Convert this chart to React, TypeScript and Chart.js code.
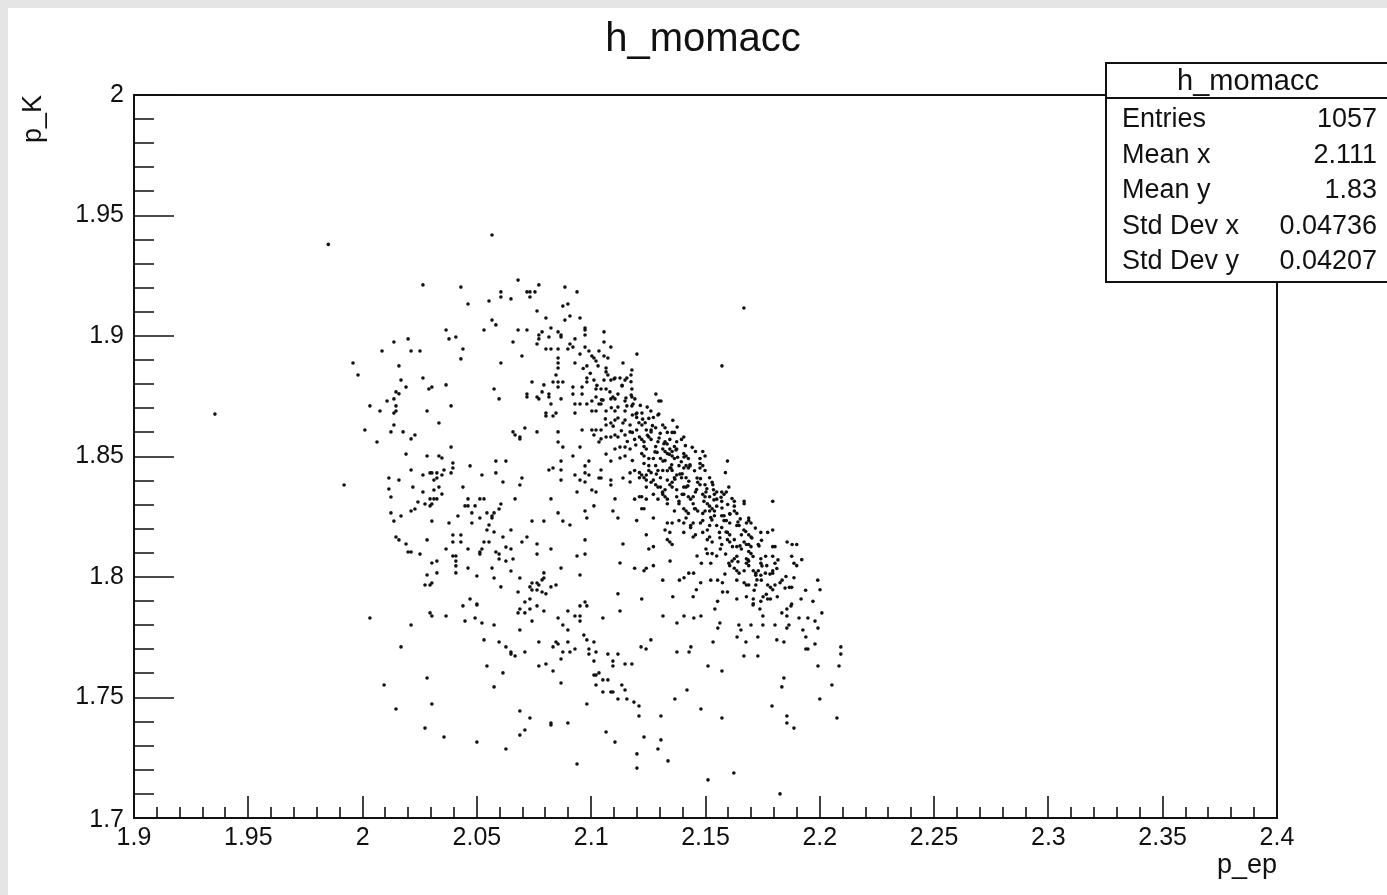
import React, { useEffect, useRef } from 'react';
import { Chart, registerables } from 'chart.js';

Chart.register(...registerables);

const TITLE = 'h_momacc';
const X_TITLE = 'p_ep';
const Y_TITLE = 'p_K';
const X_MIN = 1.9;
const X_MAX = 2.4;
const Y_MIN = 1.7;
const Y_MAX = 2.0;
const xTickValues = [1.9, 1.95, 2.0, 2.05, 2.1, 2.15, 2.2, 2.25, 2.3, 2.35, 2.4];
const xTickLabels = ['1.9', '1.95', '2', '2.05', '2.1', '2.15', '2.2', '2.25', '2.3', '2.35', '2.4'];
const yTickValues = [1.7, 1.75, 1.8, 1.85, 1.9, 1.95, 2.0];
const yTickLabels = ['1.7', '1.75', '1.8', '1.85', '1.9', '1.95', '2'];
const statsLabels = ['Entries', 'Mean x', 'Mean y', 'Std Dev x', 'Std Dev y'];
const statsValues = ['1057', '2.111', '1.83', '0.04736', '0.04207'];

// scatter entries, [p_ep, p_K]
const pointsLeft = [
  [1.985, 1.938], [2.0137, 1.8975], [2.0199, 1.8988], [2.0085, 1.8938], [1.9958, 1.8888], [2.0159, 1.8876],
  [1.998, 1.8838], [2.0168, 1.8817], [2.019, 1.8788], [2.0146, 1.8768], [2.0159, 1.876], [2.0107, 1.873],
  [2.0137, 1.8739], [2.0032, 1.871], [2.0076, 1.8689], [2.0146, 1.871], [2.0146, 1.8689], [2.0137, 1.868],
  [1.9354, 1.8676], [2.0137, 1.8631], [2.001, 1.861], [2.0124, 1.8602], [2.0177, 1.8602], [2.0063, 1.856],
  [2.019, 1.851], [2.0115, 1.8411], [2.0159, 1.8402], [1.9919, 1.8382], [2.0115, 1.8365], [2.0124, 1.8332],
  [2.0124, 1.8266], [2.0168, 1.8253], [2.0137, 1.8232], [2.0146, 1.8166], [2.0159, 1.8154], [2.019, 1.8137],
  [2.0199, 1.8104], [2.0032, 1.783], [2.0168, 1.771], [2.0094, 1.7552], [2.0146, 1.7452],
];

const pointsUpperMid = [
  [2.0566, 1.9419], [2.0264, 1.9212], [2.043, 1.9203], [2.068, 1.9232], [2.0771, 1.9212], [2.0605, 1.9183],
  [2.0605, 1.9162], [2.0719, 1.9183], [2.0732, 1.9183], [2.0754, 1.9183], [2.0732, 1.9162], [2.0885, 1.9203],
  [2.0938, 1.9183], [2.0553, 1.9145], [2.0649, 1.9154], [2.0461, 1.9133], [2.0876, 1.9124], [2.0898, 1.9133],
  [2.0763, 1.9104], [2.0566, 1.9066], [2.0583, 1.9046], [2.0531, 1.9025], [2.0365, 1.9025], [2.0408, 1.8996],
  [2.0378, 1.8988], [2.068, 1.9025], [2.0719, 1.9025], [2.0802, 1.9075], [2.0885, 1.9066], [2.0907, 1.9083],
  [2.0951, 1.9075], [2.0658, 1.8975], [2.0439, 1.8946], [2.043, 1.8905], [2.0212, 1.8938], [2.0251, 1.8938],
  [2.0697, 1.8917], [2.0605, 1.8888], [2.0264, 1.8826], [2.029, 1.878], [2.0303, 1.8788], [2.0365, 1.8797],
  [2.0387, 1.871], [2.0282, 1.8689], [2.0575, 1.878], [2.0597, 1.8739],
  [2.0771, 1.9004], [2.0785, 1.9017], [2.0771, 1.8988], [2.0763, 1.8967], [2.0815, 1.8996], [2.0824, 1.9033],
  [2.0855, 1.9017], [2.0868, 1.9004], [2.0868, 1.8996], [2.0802, 1.8946], [2.0824, 1.8946], [2.0855, 1.8946],
  [2.0907, 1.8967], [2.092, 1.8954], [2.0929, 1.8988], [2.0898, 1.8946],
  [2.0973, 1.9033], [2.0973, 1.9025], [2.0973, 1.9004], [2.1056, 1.9017], [2.1056, 1.8975], [2.1086, 1.8954],
  [2.0951, 1.8925], [2.0973, 1.8954], [2.099, 1.8938], [2.0929, 1.8888],
  [2.1003, 1.8917], [2.1012, 1.8909], [2.1021, 1.8896], [2.1034, 1.8938], [2.1056, 1.8917], [2.1073, 1.8909],
  [2.0855, 1.8909], [2.0855, 1.8888], [2.0855, 1.8867], [2.0981, 1.8876], [2.1065, 1.8867], [2.1139, 1.8888],
  [2.0741, 1.8809], [2.0793, 1.8797], [2.0833, 1.8809], [2.0855, 1.8809], [2.0855, 1.8788], [2.0876, 1.8809],
  [2.0846, 1.8838],
  [2.0981, 1.8826], [2.0981, 1.8809], [2.1012, 1.8817], [2.1056, 1.8817], [2.1073, 1.8838], [2.1086, 1.8817],
  [2.1104, 1.8826], [2.1126, 1.8826], [2.1148, 1.8817], [2.1156, 1.8826],
  [2.092, 1.8788], [2.096, 1.8788], [2.1021, 1.878], [2.1043, 1.878], [2.1065, 1.878],
  [2.0785, 1.8768], [2.0815, 1.8759], [2.0815, 1.8747], [2.0868, 1.8739], [2.092, 1.8759], [2.096, 1.8759],
  [2.0719, 1.8759], [2.0719, 1.8747], [2.0763, 1.8747], [2.0771, 1.8739],
  [2.0824, 1.8718], [2.0929, 1.8718], [2.0951, 1.8718], [2.0981, 1.8718], [2.1003, 1.873], [2.1021, 1.8747],
  [2.1034, 1.8718], [2.1043, 1.8718], [2.1086, 1.8739], [2.1095, 1.8747], [2.1104, 1.8739], [2.1117, 1.8759],
  [2.1148, 1.873], [2.1156, 1.871],
  [2.0802, 1.868], [2.0846, 1.868], [2.0929, 1.868], [2.1003, 1.8689], [2.1021, 1.8689], [2.1065, 1.8689],
  [2.1104, 1.8689], [2.1148, 1.8689],
];

const pointsUpperRight = [
  [2.1668, 1.9116], [2.12, 1.8925], [2.1572, 1.8876], [2.1178, 1.8859], [2.1178, 1.878], [2.1174, 1.8838],
  [2.1174, 1.881], [2.1178, 1.8747], [2.1191, 1.8739], [2.1283, 1.8759], [2.1296, 1.873], [2.1305, 1.873],
  [2.1178, 1.871], [2.1261, 1.8689], [2.12, 1.868], [2.1222, 1.868], [2.1296, 1.8676],
];

const pointsMid = [
  [2.0334, 1.8639], [2.0229, 1.8589], [2.0212, 1.8573], [2.0387, 1.8539], [2.0282, 1.8502], [2.0334, 1.8502],
  [2.0347, 1.8494], [2.0395, 1.8473], [2.0395, 1.8452], [2.0212, 1.8444],
  [2.0264, 1.8423], [2.0295, 1.8432], [2.0303, 1.8432], [2.0325, 1.8432], [2.0356, 1.8444], [2.0347, 1.8423],
  [2.0325, 1.8411], [2.0312, 1.8402], [2.0387, 1.8432],
  [2.047, 1.8461], [2.0522, 1.8423], [2.0583, 1.8481], [2.0627, 1.8481], [2.0583, 1.8432], [2.0614, 1.8394],
  [2.0697, 1.8411], [2.0688, 1.8382], [2.022, 1.8373],
  [2.0264, 1.8353], [2.0334, 1.8373], [2.0312, 1.8361], [2.0347, 1.8344], [2.0295, 1.8324], [2.0312, 1.8324],
  [2.0325, 1.8324], [2.0273, 1.8303], [2.0295, 1.8295], [2.0303, 1.8303],
  [2.0242, 1.8311], [2.0229, 1.8282], [2.0212, 1.8274], [2.0439, 1.8373],
  [2.0461, 1.8324], [2.0448, 1.8295], [2.0461, 1.8295], [2.0492, 1.8295], [2.0513, 1.8324], [2.0531, 1.8324],
  [2.0478, 1.8266], [2.0513, 1.8245], [2.0544, 1.8266], [2.0566, 1.8253], [2.0566, 1.8245], [2.0597, 1.8282],
  [2.0605, 1.8303], [2.0575, 1.8266], [2.0667, 1.8324], [2.0303, 1.8232], [2.0378, 1.8224], [2.0478, 1.8224],
  [2.0553, 1.8216], [2.0544, 1.8195], [2.0575, 1.8187], [2.0649, 1.8195], [2.0417, 1.8253],
  [2.0741, 1.8232], [2.0793, 1.8232], [2.0855, 1.8266], [2.0876, 1.8232], [2.0907, 1.8216], [2.0824, 1.8324],
  [2.0395, 1.8174], [2.043, 1.8174], [2.0282, 1.8154], [2.0395, 1.8145], [2.043, 1.8145], [2.0531, 1.8145],
  [2.0553, 1.8145], [2.0614, 1.8166], [2.0697, 1.8145], [2.0719, 1.8166], [2.0763, 1.8137],
  [2.0212, 1.8104], [2.0251, 1.8095], [2.0365, 1.8116], [2.0395, 1.8087], [2.0408, 1.8087], [2.0408, 1.8066],
  [2.0408, 1.8046], [2.0408, 1.8017], [2.0461, 1.8116], [2.0513, 1.8104], [2.0513, 1.8095], [2.0522, 1.8116],
  [2.0583, 1.8104], [2.0597, 1.8095], [2.0597, 1.8075], [2.0627, 1.8124], [2.0649, 1.8116], [2.0658, 1.8075],
  [2.0627, 1.8066], [2.0566, 1.8037], [2.0649, 1.8025], [2.0461, 1.8037], [2.05, 1.8004],
  [2.0303, 1.8058], [2.0325, 1.8066], [2.0325, 1.8017], [2.0282, 1.8008], [2.0273, 1.7967], [2.0295, 1.7967],
  [2.0303, 1.7975], [2.0575, 1.7996], [2.0605, 1.7959], [2.0688, 1.7996], [2.068, 1.7938], [2.0763, 1.8095],
  [2.0824, 1.8116],
  [2.0741, 1.7975], [2.0763, 1.7975], [2.0771, 1.7967], [2.0785, 1.7988], [2.0793, 1.7996], [2.0793, 1.8017],
  [2.0732, 1.7959], [2.0741, 1.7946], [2.0763, 1.7946], [2.0785, 1.7938], [2.0802, 1.793], [2.0824, 1.7959],
  [2.0846, 1.7967], [2.0868, 1.8037], [2.071, 1.7896], [2.0732, 1.7909], [2.047, 1.7909], [2.05, 1.7888],
  [2.0951, 1.8008], [2.0938, 1.8087], [2.0973, 1.8095], [2.0973, 1.8154], [2.0973, 1.7896], [2.1117, 1.793],
  [2.1126, 1.8058], [2.1139, 1.8137],
  [2.0763, 1.8602], [2.071, 1.8618], [2.0658, 1.8602], [2.0667, 1.8589], [2.0688, 1.8581], [2.0688, 1.8573],
  [2.0802, 1.8668], [2.0833, 1.8668], [2.0855, 1.8602], [2.0855, 1.856], [2.0876, 1.8539],
  [2.096, 1.861], [2.1003, 1.861], [2.1021, 1.861], [2.1043, 1.861], [2.1065, 1.8631], [2.1086, 1.8639],
  [2.1104, 1.8651], [2.1117, 1.866], [2.1139, 1.8639], [2.1148, 1.8651], [2.117, 1.8631],
  [2.1012, 1.8589], [2.1034, 1.856], [2.1043, 1.8573], [2.1065, 1.8581], [2.1086, 1.8581], [2.1104, 1.8589],
  [2.1117, 1.8581], [2.1148, 1.8589], [2.117, 1.8602],
  [2.0951, 1.8539], [2.092, 1.8502], [2.0868, 1.8481], [2.0868, 1.8444], [2.0868, 1.8402], [2.0815, 1.8444],
  [2.0833, 1.8452],
  [2.1104, 1.8531], [2.1126, 1.8539], [2.1148, 1.8539], [2.117, 1.8531], [2.1065, 1.851], [2.1086, 1.8481],
  [2.1126, 1.8494], [2.1148, 1.8502],
  [2.0973, 1.8461], [2.099, 1.8481], [2.0973, 1.8432], [2.0929, 1.8423], [2.0951, 1.8402], [2.0973, 1.8394],
  [2.099, 1.8423], [2.1043, 1.8444], [2.1034, 1.8411], [2.1043, 1.8411],
  [2.1086, 1.8402], [2.1086, 1.8382], [2.1139, 1.8411], [2.117, 1.8432], [2.117, 1.8394],
  [2.0938, 1.8353], [2.1003, 1.8361], [2.1021, 1.8353], [2.1104, 1.8324], [2.1012, 1.8295], [2.0973, 1.8274],
  [2.0981, 1.8245], [2.1095, 1.8274], [2.1117, 1.8245],
];

const pointsBand = [
  [2.118, 1.8672], [2.1199, 1.8662], [2.1209, 1.864], [2.1236, 1.864], [2.1252, 1.8658], [2.1272, 1.8662],
  [2.1292, 1.8672], [2.1313, 1.8631], [2.1323, 1.8619], [2.1357, 1.865], [2.1199, 1.861], [2.1241, 1.861],
  [2.1262, 1.861], [2.1282, 1.8619], [2.1333, 1.86], [2.1354, 1.86], [2.1364, 1.86], [2.119, 1.8571],
  [2.1211, 1.8581], [2.1221, 1.8571], [2.1231, 1.8561], [2.1252, 1.8581], [2.1262, 1.8571], [2.1292, 1.8561],
  [2.1323, 1.8561], [2.1344, 1.8571], [2.1374, 1.8561], [2.1395, 1.8571], [2.1405, 1.8581], [2.118, 1.86],
  [2.1231, 1.8541], [2.1241, 1.8531], [2.1282, 1.8541], [2.1313, 1.8531], [2.1323, 1.8521], [2.1344, 1.8531],
  [2.1354, 1.8521], [2.1364, 1.8541], [2.1374, 1.8531], [2.1333, 1.8512], [2.1354, 1.8502], [2.1221, 1.8512],
  [2.1231, 1.8502], [2.1252, 1.8492], [2.1272, 1.8492], [2.1303, 1.8492], [2.1364, 1.8492], [2.1405, 1.8512],
  [2.1415, 1.8502], [2.1425, 1.8492], [2.1456, 1.8521], [2.1488, 1.8521], [2.1476, 1.8492], [2.1498, 1.8502],
  [2.118, 1.8483], [2.1231, 1.8471], [2.1252, 1.8462], [2.1282, 1.8462], [2.1323, 1.8483],
  [2.119, 1.8442], [2.1211, 1.8433], [2.1221, 1.8423], [2.1241, 1.8423], [2.1252, 1.8442], [2.1262, 1.8433],
  [2.1292, 1.8442], [2.1313, 1.8442], [2.1344, 1.8452], [2.1354, 1.8442], [2.1384, 1.8462], [2.1405, 1.8452],
  [2.1415, 1.8462], [2.1425, 1.8452], [2.1476, 1.8471], [2.1488, 1.8462], [2.1476, 1.8452], [2.1498, 1.8442],
  [2.1596, 1.8481], [2.1587, 1.8433], [2.1211, 1.8412], [2.1231, 1.8412], [2.1241, 1.8402], [2.1272, 1.8402],
  [2.1282, 1.8383], [2.1303, 1.8412], [2.1333, 1.8402], [2.1344, 1.8383], [2.1354, 1.8393], [2.1364, 1.8412],
  [2.1374, 1.8423], [2.1395, 1.8412], [2.1415, 1.8412], [2.1466, 1.8393], [2.1476, 1.8383], [2.1498, 1.8383],
  [2.1518, 1.8412], [2.1529, 1.8393], [2.1532, 1.8383],
  [2.1241, 1.8373], [2.1292, 1.8373], [2.1303, 1.8373], [2.1323, 1.8362], [2.1354, 1.8373], [2.1374, 1.8362],
  [2.1405, 1.8373], [2.1415, 1.8373], [2.1456, 1.8353], [2.1446, 1.8333], [2.1488, 1.8343], [2.1498, 1.8333],
  [2.1518, 1.8333], [2.1539, 1.8343], [2.1549, 1.8353], [2.1571, 1.8353], [2.1581, 1.8343], [2.1591, 1.8353],
  [2.1602, 1.8373], [2.1549, 1.8323], [2.119, 1.8323], [2.1211, 1.8333], [2.1221, 1.8333], [2.1241, 1.8323],
  [2.1272, 1.8343], [2.1292, 1.8323], [2.1313, 1.8343], [2.1323, 1.8333], [2.1333, 1.8323], [2.1374, 1.8333],
  [2.1384, 1.8314], [2.1405, 1.8343], [2.1425, 1.8333], [2.1435, 1.8323],
  [2.1221, 1.8283], [2.1231, 1.8283], [2.1333, 1.8304], [2.1364, 1.8274], [2.1384, 1.8304], [2.1405, 1.8283],
  [2.1415, 1.8274], [2.1425, 1.8264], [2.1446, 1.8304], [2.1456, 1.8283], [2.1466, 1.8274], [2.1488, 1.8264],
  [2.1508, 1.8304], [2.1518, 1.8294], [2.1529, 1.8283], [2.1539, 1.8274], [2.1549, 1.8294], [2.1571, 1.8314],
  [2.1581, 1.8254], [2.1571, 1.8254], [2.1518, 1.8274], [2.1498, 1.8274], [2.1626, 1.8314], [2.1626, 1.8294],
  [2.1626, 1.8274], [2.1637, 1.8264], [2.1669, 1.8314], [2.1669, 1.8304], [2.1794, 1.8314], [2.1616, 1.8326],
  [2.1199, 1.8234], [2.1272, 1.8245], [2.1333, 1.8224], [2.1354, 1.8224], [2.1384, 1.8234], [2.1405, 1.8224],
  [2.1435, 1.8214], [2.1446, 1.8224], [2.1478, 1.8224], [2.1488, 1.8234], [2.1518, 1.8214], [2.1549, 1.8214],
  [2.1539, 1.8254], [2.1581, 1.8234], [2.1591, 1.8234], [2.1571, 1.8205], [2.1606, 1.8224], [2.1637, 1.8214],
  [2.1647, 1.8214], [2.1679, 1.8224], [2.1689, 1.8234], [2.1699, 1.8224], [2.1689, 1.8245], [2.1323, 1.8195],
  [2.1344, 1.8185], [2.1405, 1.8185], [2.1435, 1.8205], [2.1456, 1.8175], [2.1446, 1.8166], [2.1488, 1.8185],
  [2.1508, 1.8195], [2.1518, 1.8166], [2.1561, 1.8185], [2.1596, 1.8185], [2.1606, 1.8175], [2.1657, 1.8175],
  [2.1689, 1.8175], [2.1699, 1.8166], [2.1742, 1.8185], [2.1772, 1.8185], [2.1794, 1.8195],
  [2.1241, 1.8175], [2.1333, 1.8155], [2.1344, 1.8145], [2.1354, 1.8135], [2.1272, 1.8126], [2.1252, 1.8116],
  [2.1508, 1.8155], [2.1529, 1.8145], [2.1571, 1.8135], [2.1596, 1.8155], [2.1606, 1.8145], [2.1626, 1.8155],
  [2.1637, 1.8126], [2.1669, 1.8145], [2.1679, 1.8135], [2.1689, 1.8135], [2.1699, 1.8126], [2.1731, 1.8135],
  [2.1657, 1.8116], [2.1689, 1.8106], [2.1699, 1.8097], [2.1794, 1.8126], [2.1804, 1.8126], [2.1857, 1.8145],
  [2.1879, 1.8135], [2.1899, 1.8135], [2.1502, 1.8116], [2.1565, 1.8116], [2.1508, 1.8097], [2.1529, 1.8097],
  [2.1549, 1.8087], [2.1463, 1.8087], [2.1482, 1.8057],
  [2.1345, 1.8066], [2.119, 1.8036], [2.1231, 1.8026], [2.1241, 1.8036], [2.1272, 1.8047], [2.1523, 1.8057],
  [2.1602, 1.8057], [2.1616, 1.8066], [2.1626, 1.8076], [2.1637, 1.8086], [2.1606, 1.8047], [2.1626, 1.8036],
  [2.1637, 1.8026], [2.1647, 1.8016], [2.1679, 1.8076], [2.1689, 1.8066], [2.1679, 1.8057], [2.1689, 1.8047],
  [2.1742, 1.8076], [2.1742, 1.8057], [2.1763, 1.8086], [2.1794, 1.8086], [2.1804, 1.8057], [2.1877, 1.8086],
  [2.1887, 1.8057], [2.1899, 1.8047], [2.1669, 1.8026], [2.1709, 1.8026], [2.172, 1.8016], [2.1731, 1.8026],
  [2.172, 1.8007], [2.1742, 1.8007], [2.1762, 1.8016], [2.1794, 1.8026], [2.1794, 1.8016],
  [2.1313, 1.7987], [2.1386, 1.7987], [2.1406, 1.7997], [2.1427, 1.8016], [2.1448, 1.8016], [2.1479, 1.7976],
  [2.1523, 1.7987], [2.1553, 1.7987], [2.1574, 1.7976], [2.1637, 1.7987], [2.1669, 1.7976], [2.1679, 1.7967],
  [2.1689, 1.7967], [2.172, 1.7967], [2.1772, 1.7967], [2.1784, 1.7957], [2.1794, 1.7947], [2.1804, 1.7967],
  [2.1835, 1.7987], [2.1887, 1.7997], [2.1877, 1.7957], [2.1867, 1.7957], [2.1991, 1.7987], [2.2001, 1.7947],
  [2.146, 1.7947], [2.1575, 1.7938], [2.1596, 1.7938], [2.1221, 1.7909], [2.1357, 1.7918], [2.1446, 1.7918],
  [2.1553, 1.7899], [2.1637, 1.7909], [2.1679, 1.7918], [2.1709, 1.7909], [2.1742, 1.7899], [2.1752, 1.7918],
  [2.1772, 1.7909], [2.1784, 1.7909], [2.1814, 1.7918], [2.1918, 1.7909], [2.197, 1.7899], [2.1877, 1.7888],
  [2.1709, 1.7889],
];

// overlapping entries in the darkest part of the band, estimated
const pointsBandDense = [
  [2.1225, 1.8655], [2.1268, 1.8628], [2.1302, 1.8596], [2.1246, 1.8588], [2.1318, 1.8553], [2.1288, 1.8517],
  [2.1342, 1.8509], [2.1378, 1.8497], [2.1394, 1.8478], [2.1352, 1.8466], [2.1432, 1.8466], [2.1452, 1.8441],
  [2.1398, 1.8428], [2.1366, 1.8406], [2.1427, 1.8397], [2.1478, 1.8408], [2.1506, 1.8366], [2.1461, 1.8363],
  [2.1535, 1.8362], [2.1568, 1.8331], [2.1493, 1.8314], [2.1597, 1.8301], [2.1523, 1.8247], [2.1606, 1.8262],
  [2.1652, 1.8241], [2.1718, 1.8203], [2.1676, 1.8189], [2.1745, 1.8152], [2.1708, 1.8085], [2.1768, 1.8047],
  [2.1812, 1.8035], [2.1744, 1.7987], [2.1826, 1.7976], [2.1195, 1.8548], [2.1158, 1.8562], [2.1132, 1.8607],
  [2.1096, 1.8626], [2.1062, 1.8656], [2.1088, 1.8702], [2.1045, 1.8735], [2.1025, 1.8795], [2.0996, 1.8845],
  [2.0965, 1.8865], [2.1135, 1.8795], [2.1175, 1.8755], [2.1215, 1.8712], [2.1245, 1.8705], [2.1376, 1.8622],
  [2.1412, 1.8545], [2.1442, 1.8538], [2.1333, 1.8441], [2.1285, 1.8427], [2.1262, 1.8393], [2.1312, 1.8352],
  [2.1398, 1.8343], [2.1452, 1.8283], [2.1415, 1.8245], [2.1563, 1.8163], [2.1618, 1.8126], [2.1588, 1.8095],
  [2.1642, 1.8063], [2.1585, 1.8012], [2.1713, 1.7945], [2.1766, 1.7928], [2.1852, 1.8002], [2.1921, 1.8072],
  [2.1938, 1.7945],
  [2.103, 1.8876], [2.1065, 1.8851], [2.11, 1.8822], [2.1135, 1.8793], [2.1082, 1.8768], [2.1152, 1.8743],
  [2.1183, 1.8718], [2.1117, 1.8705], [2.1052, 1.8734], [2.1196, 1.8676], [2.1222, 1.8631], [2.1262, 1.8602],
  [2.1297, 1.8577], [2.1332, 1.8552], [2.1371, 1.8527], [2.1406, 1.8498], [2.1279, 1.8519], [2.1314, 1.8481],
  [2.1349, 1.8452], [2.1388, 1.8427], [2.1432, 1.8461], [2.1463, 1.8411], [2.1423, 1.8378], [2.1502, 1.8353],
  [2.1537, 1.832], [2.1572, 1.8286], [2.1607, 1.8261], [2.1642, 1.8228], [2.1668, 1.8195], [2.1703, 1.8162],
  [2.1734, 1.8129], [2.1528, 1.8237], [2.159, 1.8187], [2.1651, 1.8129], [2.1686, 1.8071], [2.1747, 1.8046],
  [2.1782, 1.8012], [2.1725, 1.7988], [2.1817, 1.8071], [2.1848, 1.7954],
];

const pointsLowerMid = [
  [2.0439, 1.788], [2.05, 1.7884], [2.0295, 1.7851], [2.0303, 1.7838], [2.0365, 1.7838], [2.0448, 1.7817],
  [2.0492, 1.783], [2.0522, 1.7809], [2.0575, 1.7801], [2.0212, 1.7801], [2.0688, 1.7867], [2.068, 1.7851],
  [2.071, 1.7851], [2.0732, 1.7867], [2.0763, 1.788], [2.0793, 1.7859], [2.0741, 1.7817], [2.0688, 1.778],
  [2.0855, 1.783], [2.0876, 1.7801], [2.0898, 1.778], [2.0898, 1.7859], [2.0929, 1.7838], [2.0951, 1.7838],
  [2.0951, 1.7817], [2.0951, 1.788], [2.0981, 1.788], [2.1051, 1.783], [2.1126, 1.7859],
  [2.0531, 1.7739], [2.0597, 1.773], [2.0627, 1.771], [2.0649, 1.7689], [2.0649, 1.768], [2.0667, 1.7672],
  [2.071, 1.7689], [2.0771, 1.773], [2.0846, 1.773], [2.0855, 1.7722], [2.0833, 1.771], [2.0876, 1.7689],
  [2.0898, 1.773], [2.0907, 1.7689], [2.0929, 1.7701], [2.0968, 1.7759], [2.0981, 1.7739], [2.1012, 1.773],
  [2.099, 1.7701], [2.099, 1.768], [2.1021, 1.7689], [2.1073, 1.768], [2.1117, 1.768], [2.1095, 1.7651],
  [2.1095, 1.7631], [2.1148, 1.7639], [2.0868, 1.766], [2.1012, 1.7651], [2.0544, 1.7631], [2.0771, 1.7631],
  [2.0802, 1.7639], [2.0833, 1.761], [2.0614, 1.7602], [2.1012, 1.7593], [2.1021, 1.7593], [2.1034, 1.7602],
  [2.1051, 1.7573], [2.1073, 1.7573], [2.1021, 1.7552], [2.0868, 1.756], [2.1134, 1.7552], [2.1148, 1.7531],
  [2.1051, 1.7523], [2.1086, 1.7523], [2.1095, 1.7523], [2.1117, 1.7494], [2.1156, 1.7494], [2.0981, 1.7473],
  [2.0282, 1.7581], [2.0575, 1.7544], [2.0303, 1.7473], [2.0688, 1.7444], [2.0732, 1.7415], [2.071, 1.7365],
  [2.0688, 1.7344], [2.0824, 1.7394], [2.0824, 1.7386], [2.0898, 1.7394], [2.0273, 1.7373], [2.0356, 1.7336],
  [2.05, 1.7315], [2.0627, 1.7286], [2.1065, 1.7357], [2.1104, 1.7315], [2.0938, 1.7224],
];

const pointsLowerRight = [
  [2.1314, 1.7838], [2.1406, 1.7838], [2.1449, 1.783], [2.148, 1.7838], [2.1375, 1.7809], [2.1541, 1.7867],
  [2.1563, 1.7809], [2.1554, 1.7788], [2.1646, 1.7801], [2.1655, 1.778], [2.1699, 1.7801], [2.1751, 1.7801],
  [2.1751, 1.7838], [2.1738, 1.7867], [2.1708, 1.7884], [2.1804, 1.7801], [2.1834, 1.7851], [2.1856, 1.7838],
  [2.1856, 1.7867], [2.1874, 1.788], [2.1856, 1.7788], [2.1865, 1.7801], [2.1909, 1.783], [2.1948, 1.783],
  [2.1979, 1.7817], [2.2009, 1.7851], [2.1926, 1.778], [2.1992, 1.7788], [2.1261, 1.7739], [2.1218, 1.771],
  [2.124, 1.7701], [2.1375, 1.7689], [2.1428, 1.7689], [2.1436, 1.771], [2.1533, 1.773], [2.1638, 1.7751],
  [2.1677, 1.773], [2.1729, 1.7751], [2.1812, 1.7739], [2.1843, 1.773], [2.1939, 1.7751], [2.1939, 1.7701],
  [2.1948, 1.7701], [2.1979, 1.7722], [2.2092, 1.771], [2.2092, 1.768], [2.1668, 1.7672], [2.1729, 1.7672],
  [2.1178, 1.7639], [2.1511, 1.7631], [2.1572, 1.761], [2.1992, 1.7631], [2.2084, 1.7631], [2.1843, 1.7581],
  [2.1834, 1.7544], [2.2053, 1.7552], [2.2, 1.7494], [2.1419, 1.7531], [2.1366, 1.7494], [2.1187, 1.7481],
  [2.1209, 1.7465], [2.1209, 1.7423], [2.1305, 1.7423], [2.148, 1.7452], [2.1572, 1.7415], [2.1791, 1.7465],
  [2.1856, 1.7423], [2.1856, 1.7394], [2.1887, 1.7373], [2.2075, 1.7415], [2.1231, 1.7336], [2.1305, 1.7324],
  [2.1292, 1.7286], [2.12, 1.7266], [2.12, 1.7207], [2.1336, 1.7237], [2.1511, 1.7158], [2.1624, 1.7187],
  [2.1826, 1.71],
];

const allPoints = [
  ...pointsLeft, ...pointsUpperMid, ...pointsUpperRight, ...pointsMid,
  ...pointsBand, ...pointsBandDense, ...pointsLowerMid, ...pointsLowerRight,
];

const FONT = "'Liberation Sans', Arial, Helvetica, sans-serif";

const rootStylePlugin = {
  id: 'rootStyle',
  beforeDraw(chart: any) {
    const ctx = chart.ctx;
    ctx.save();
    ctx.fillStyle = '#ffffff';
    ctx.fillRect(0, 0, chart.width, chart.height);
    ctx.restore();
  },
  afterDatasetsDraw(chart: any) {
    const ctx = chart.ctx;
    const xs = chart.scales.x;
    const ys = chart.scales.y;
    const { left, right, top, bottom } = chart.chartArea;
    ctx.save();
    ctx.strokeStyle = '#111111';
    ctx.fillStyle = '#111111';
    // frame
    ctx.lineWidth = 2;
    ctx.strokeRect(left, top, right - left, bottom - top);
    // ticks (inside the frame, ROOT style)
    ctx.lineWidth = 1.6;
    ctx.beginPath();
    for (let i = 0; i <= 50; i++) {
      const v = X_MIN + i * 0.01;
      const px = Math.round(xs.getPixelForValue(v));
      const len = i % 5 === 0 ? 22 : 11;
      ctx.moveTo(px, bottom);
      ctx.lineTo(px, bottom - len);
    }
    for (let i = 0; i <= 30; i++) {
      const v = Y_MIN + i * 0.01;
      const py = Math.round(ys.getPixelForValue(v));
      const len = i % 5 === 0 ? 40 : 20;
      ctx.moveTo(left, py);
      ctx.lineTo(left + len, py);
    }
    ctx.stroke();
    // tick labels
    ctx.font = `25px ${FONT}`;
    ctx.textAlign = 'center';
    ctx.textBaseline = 'middle';
    xTickValues.forEach((v, i) => {
      ctx.fillText(xTickLabels[i], xs.getPixelForValue(v), bottom + 20);
    });
    ctx.textAlign = 'right';
    yTickValues.forEach((v, i) => {
      const py = ys.getPixelForValue(v);
      ctx.fillText(yTickLabels[i], left - 10, i === 0 ? py + 2 : py);
    });
    // axis titles
    ctx.font = `27px ${FONT}`;
    ctx.textAlign = 'right';
    ctx.textBaseline = 'middle';
    ctx.fillText(X_TITLE, right, bottom + 48);
    ctx.save();
    ctx.translate(33, top);
    ctx.rotate(-Math.PI / 2);
    ctx.textAlign = 'right';
    ctx.textBaseline = 'alphabetic';
    ctx.fillText(Y_TITLE, 0, 0);
    ctx.restore();
    // title
    ctx.font = `40px ${FONT}`;
    ctx.textAlign = 'center';
    ctx.textBaseline = 'middle';
    ctx.fillText(TITLE, 695, 32);
    // stats box
    const bx = 1098, by = 55, bw = 290, bh = 219;
    ctx.fillStyle = '#ffffff';
    ctx.fillRect(bx, by, bw, bh);
    ctx.lineWidth = 2;
    ctx.strokeRect(bx, by, bw, bh);
    ctx.beginPath();
    ctx.moveTo(bx, by + 35);
    ctx.lineTo(bx + bw, by + 35);
    ctx.stroke();
    ctx.fillStyle = '#111111';
    ctx.font = `29px ${FONT}`;
    ctx.textAlign = 'center';
    ctx.fillText(TITLE, bx + 142, by + 19);
    ctx.font = `27px ${FONT}`;
    statsLabels.forEach((lab, i) => {
      const yy = by + 57 + i * 35.5;
      ctx.textAlign = 'left';
      ctx.fillText(lab, bx + 16, yy);
      ctx.textAlign = 'right';
      ctx.fillText(statsValues[i], bx + 271, yy);
    });
    ctx.restore();
  },
};

export default function App() {
  const ref = useRef<HTMLCanvasElement | null>(null);
  useEffect(() => {
    document.documentElement.style.overflow = 'hidden';
    document.body.style.background = '#e5e5e5';
    const canvas = ref.current!;
    const chart = new Chart(canvas, {
      type: 'scatter',
      data: {
        datasets: [
          {
            label: TITLE,
            data: allPoints.map(([x, y]) => ({ x, y })),
            pointRadius: 1.8,
            pointHoverRadius: 1.8,
            backgroundColor: '#111111',
            borderWidth: 0,
          },
        ],
      },
      options: {
        responsive: false,
        animation: false,
        devicePixelRatio: 1,
        events: [],
        layout: { padding: { left: 126, top: 87, right: 110, bottom: 77 } },
        plugins: { legend: { display: false }, tooltip: { enabled: false }, title: { display: false } },
        scales: {
          x: { type: 'linear', min: X_MIN, max: X_MAX, display: false },
          y: { type: 'linear', min: Y_MIN, max: Y_MAX, display: false },
        },
      },
      plugins: [rootStylePlugin],
    });
    return () => chart.destroy();
  }, []);
  return (
    <div style={{ position: 'fixed', left: 8, top: 8, width: 1379, height: 887, background: '#fff' }}>
      <canvas
        ref={ref}
        width={1379}
        height={887}
        style={{ display: 'block', width: 1379, height: 887 }}
      />
    </div>
  );
}
